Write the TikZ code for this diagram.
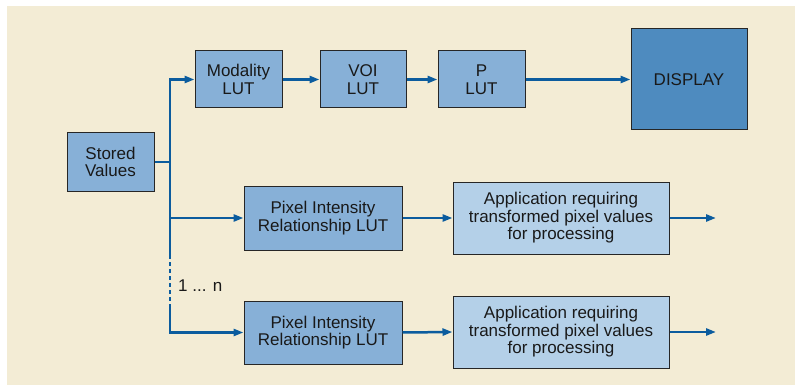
\documentclass[tikz,border=0pt]{standalone}
\usepackage{fontspec}
\setmainfont{Liberation Sans}
\usetikzlibrary{arrows.meta}
\definecolor{bgc}{HTML}{F3ECD5}
\definecolor{boxc}{HTML}{87B0D7}
\definecolor{appc}{HTML}{B4D0E8}
\definecolor{dispc}{HTML}{4E8BBF}
\definecolor{linec}{HTML}{0B5C9E}
\definecolor{edgec}{HTML}{262626}
\tikzset{
  lutbox/.style={draw=edgec, line width=1pt, fill=boxc, inner sep=0pt, align=center,
    font=\fontsize{17}{17.5}\selectfont, text=black!90},
  appbox/.style={lutbox, fill=appc},
  dispbox/.style={lutbox, fill=dispc},
  conn/.style={draw=linec, line width=2.5pt},
  arr/.style={conn, -{Triangle[length=10pt,width=7pt]}},
}
\begin{document}
\begin{tikzpicture}[x=1pt,y=-1pt]
\useasboundingbox (0,0) rectangle (795,385);
\fill[white] (0,0) rectangle (795,385);
\fill[bgc] (7,6) rectangle (795,385);

\node[lutbox, minimum width=87pt, minimum height=58pt] (sv) at (110.5,162) {Stored\\Values};
\node[lutbox, minimum width=87pt, minimum height=57pt] (mod) at (238.5,79.5) {Modality\\LUT};
\node[lutbox, minimum width=86pt, minimum height=57pt] (voi) at (363,79.5) {VOI\\LUT};
\node[lutbox, minimum width=87pt, minimum height=57pt] (plut) at (481.5,79.5) {P\\LUT};
\node[dispbox, minimum width=116pt, minimum height=101pt] (disp) at (689,79.5) {DISPLAY};
\node[lutbox, minimum width=158pt, minimum height=64pt] (pix1) at (323,218) {Pixel Intensity\\Relationship LUT};
\node[appbox, minimum width=216pt, minimum height=72pt] (app1) at (561,218) {Application requiring\\transformed pixel values\\for processing};
\node[lutbox, minimum width=158pt, minimum height=63pt] (pix2) at (323,332.5) {Pixel Intensity\\Relationship LUT};
\node[appbox, minimum width=216pt, minimum height=72pt] (app2) at (561,332) {Application requiring\\transformed pixel values\\for processing};

\coordinate (j0) at (170,79.5);
\coordinate (jS) at (170,162);
\coordinate (j1) at (170,218);
\coordinate (jd1) at (170,255);
\coordinate (jd2) at (170,308);
\coordinate (j2) at (170,332.5);
\coordinate (o1) at (716,218);
\coordinate (o2) at (716,332);

\path[conn] (sv.east) -- (jS);
\path[arr] (jS) -- (j0) -- (mod.west);
\path[conn] (jS) -- (jd1);
\path[arr] (j1) -- (pix1.west);
\path[conn, line width=2.5pt, dash pattern=on 3.5pt off 3.5pt] (jd1) -- (jd2);
\path[arr] (jd2) -- (j2) -- (pix2.west);
\path[arr] (mod.east) -- (voi.west);
\path[arr] (voi.east) -- (plut.west);
\path[arr] (plut.east) -- (disp.west);
\path[arr] (pix1.east) -- (app1.west);
\path[arr] (pix2.east) -- (app2.west);
\path[arr] (app1.east) -- (o1);
\path[arr] (app2.east) -- (o2);

\node[anchor=west, inner sep=0pt, font=\fontsize{17}{17.5}\selectfont, text=black!90] (lbl) at (178,286) {1 ... n};
\end{tikzpicture}
\end{document}
